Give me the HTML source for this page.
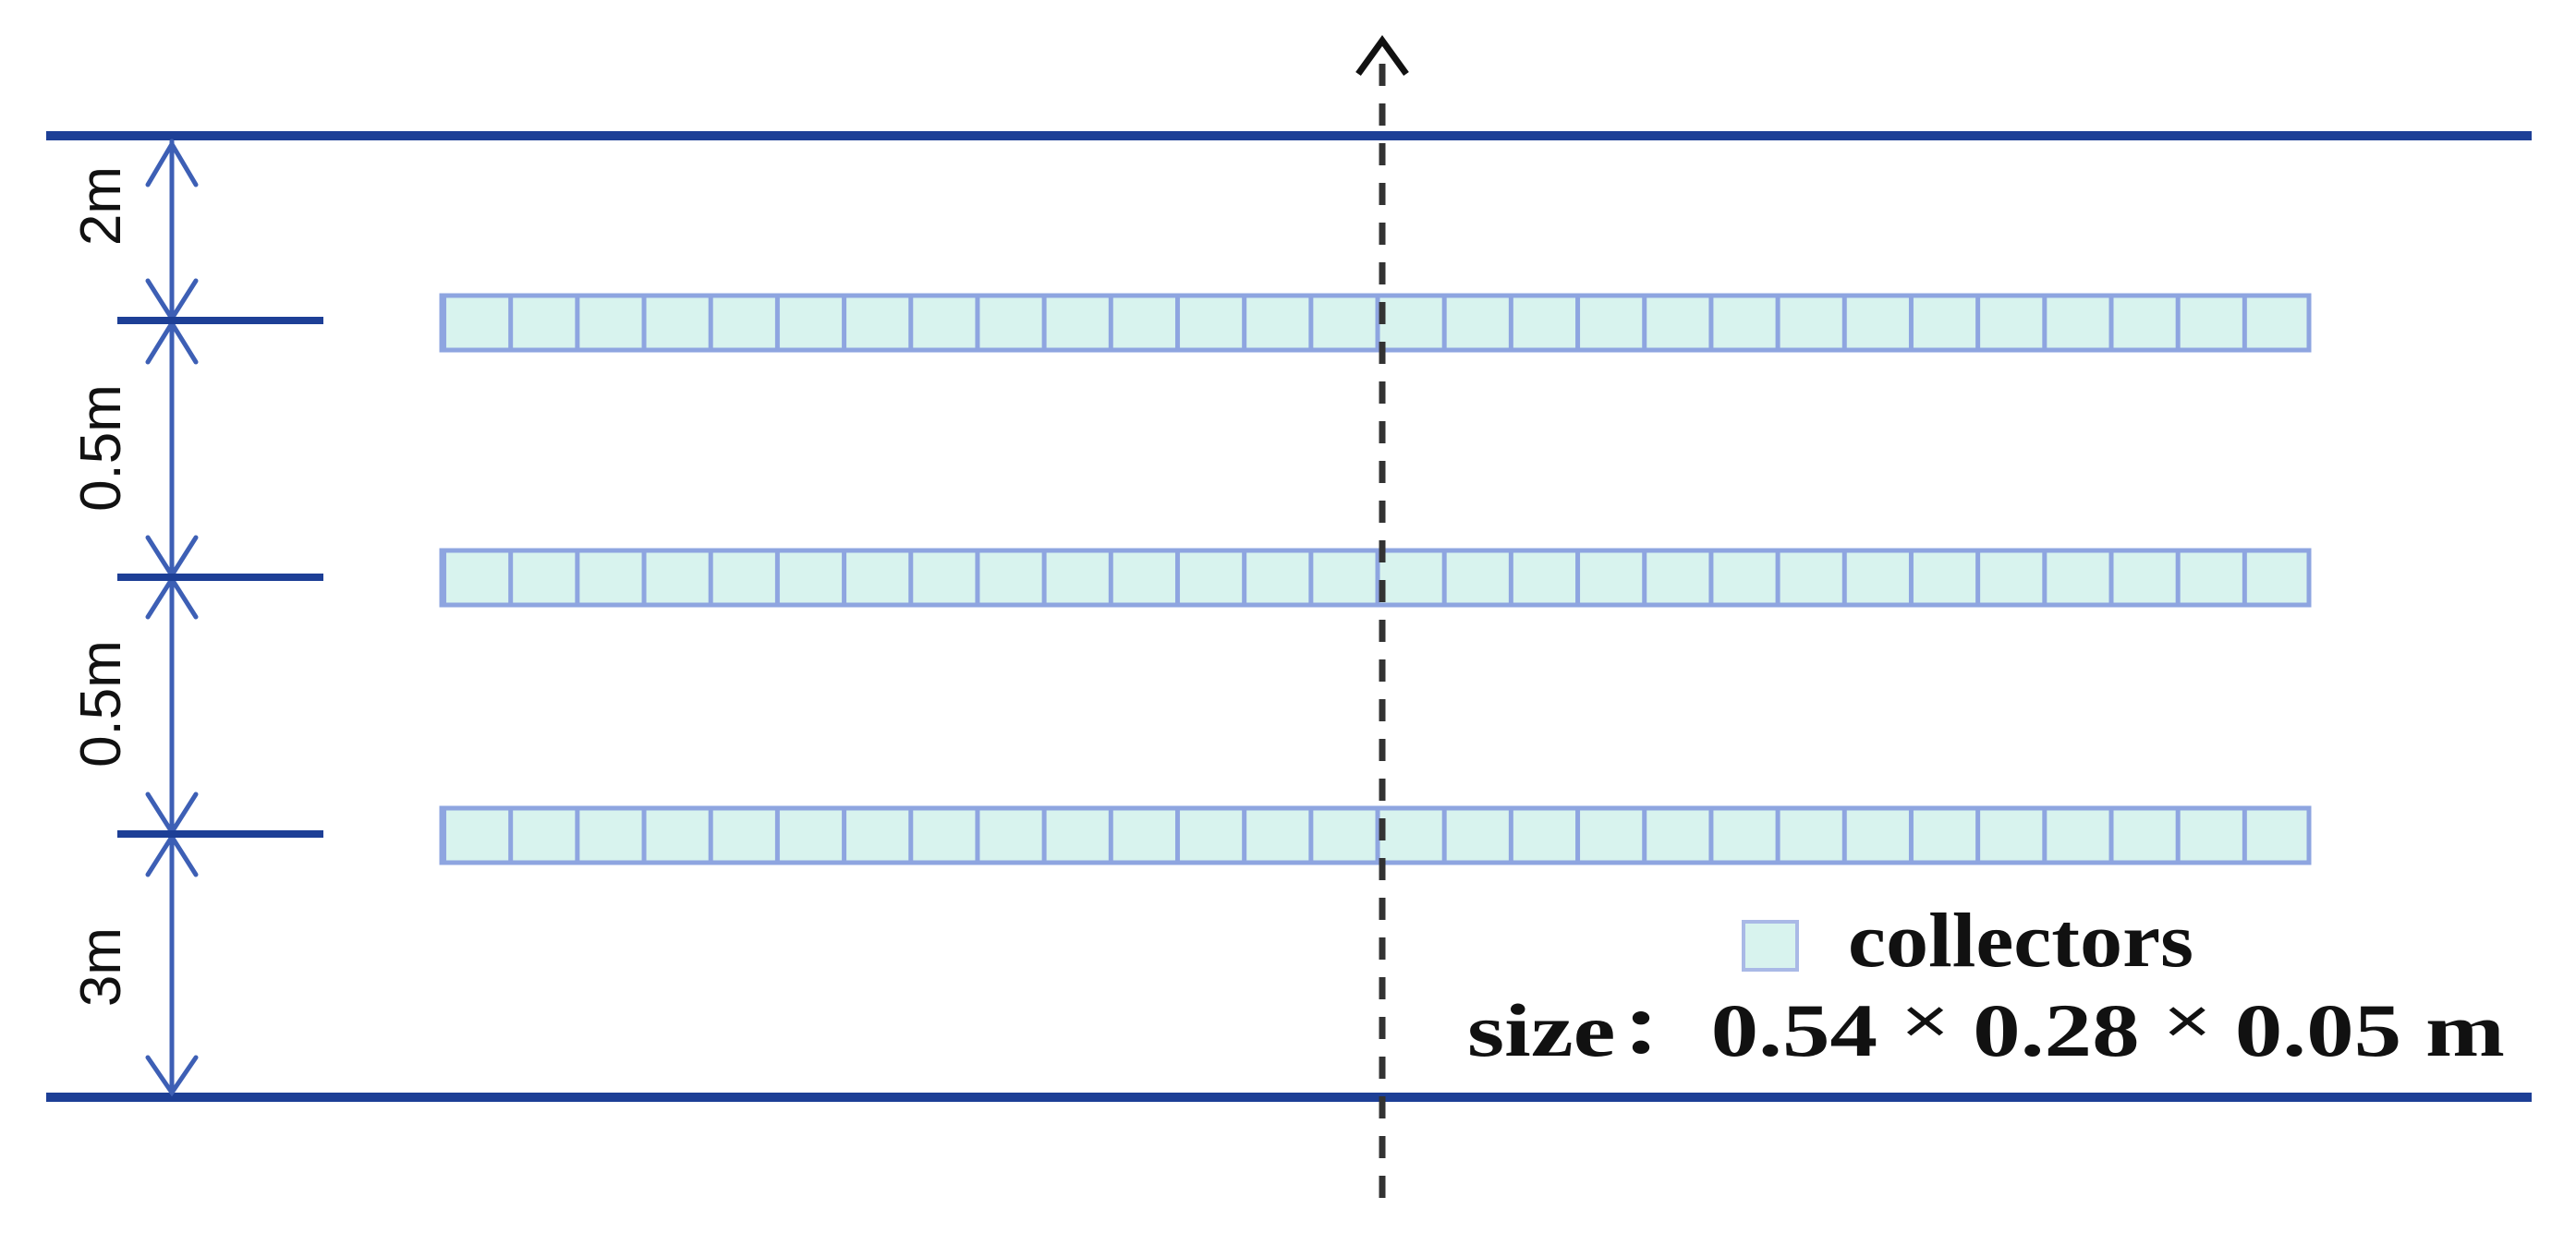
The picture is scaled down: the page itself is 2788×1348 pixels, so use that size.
<!DOCTYPE html>
<html><head><meta charset="utf-8"><style>
html,body{margin:0;padding:0;background:#fff;}
svg{display:block;}
</style></head><body>
<svg width="2788" height="1348" viewBox="0 0 2788 1348" xmlns="http://www.w3.org/2000/svg">
<defs>
<pattern id="row" x="478" y="0" width="72.18" height="1348" patternUnits="userSpaceOnUse">
<rect x="0" y="0" width="72.18" height="1348" fill="#d8f3ee"/>
<rect x="0" y="0" width="5" height="1348" fill="#8ea5e0"/>
</pattern>
</defs>
<rect x="50" y="142" width="2690" height="10" fill="#1d3f96"/>
<rect x="50" y="1183" width="2690" height="10" fill="#1d3f96"/>
<g stroke="#8ea5e0" stroke-width="5">
<rect x="478" y="320" width="2021" height="59" fill="url(#row)"/>
<rect x="478" y="596" width="2021" height="59" fill="url(#row)"/>
<rect x="478" y="875" width="2021" height="59" fill="url(#row)"/>
</g>
<g stroke="#3d5fb5" stroke-width="5" fill="none" stroke-linecap="round">
<line x1="186" y1="153" x2="186" y2="1183"/>
<polyline points="160,200 186,156 212,200"/>
<polyline points="160,304 186,345 212,304"/>
<polyline points="160,392 186,350 212,392"/>
<polyline points="160,582 186,623 212,582"/>
<polyline points="160,668 186,627 212,668"/>
<polyline points="160,860 186,901 212,860"/>
<polyline points="160,947 186,906 212,947"/>
<polyline points="160,1145 186,1183 212,1145"/>
</g>
<g stroke="#1d3f96" stroke-width="8">
<line x1="127" y1="347" x2="350" y2="347"/>
<line x1="127" y1="625" x2="350" y2="625"/>
<line x1="127" y1="903" x2="350" y2="903"/>
</g>
<g font-family="Liberation Sans, sans-serif" font-size="62" fill="#111" text-anchor="middle">
<text transform="translate(130,223) rotate(-90)">2m</text>
<text transform="translate(130,485) rotate(-90)">0.5m</text>
<text transform="translate(130,762) rotate(-90)">0.5m</text>
<text transform="translate(130,1047) rotate(-90)">3m</text>
</g>
<line x1="1496" y1="1297" x2="1496" y2="62" stroke="#333" stroke-width="7" stroke-dasharray="24 19"/>
<polyline points="1470,80 1496,44 1522,80" stroke="#111" stroke-width="7" fill="none"/>
<rect x="1887" y="998" width="58" height="52" fill="#d8f3ee" stroke="#a9b9e6" stroke-width="4"/>
<text x="2000" y="1046" font-family="Liberation Serif, serif" font-weight="bold" font-size="84" textLength="374" lengthAdjust="spacingAndGlyphs" fill="#111">collectors</text>
<text x="1588" y="1143" font-family="Liberation Serif, 'Noto Serif CJK SC', serif" font-weight="bold" font-size="82" textLength="1123" lengthAdjust="spacingAndGlyphs" fill="#111">size：0.54 <tspan font-family="Liberation Sans, sans-serif" font-weight="normal" font-size="70" dy="-14">×</tspan><tspan dy="14"> 0.28 </tspan><tspan font-family="Liberation Sans, sans-serif" font-weight="normal" font-size="70" dy="-14">×</tspan><tspan dy="14"> 0.05 m</tspan></text>
</svg>
</body></html>
